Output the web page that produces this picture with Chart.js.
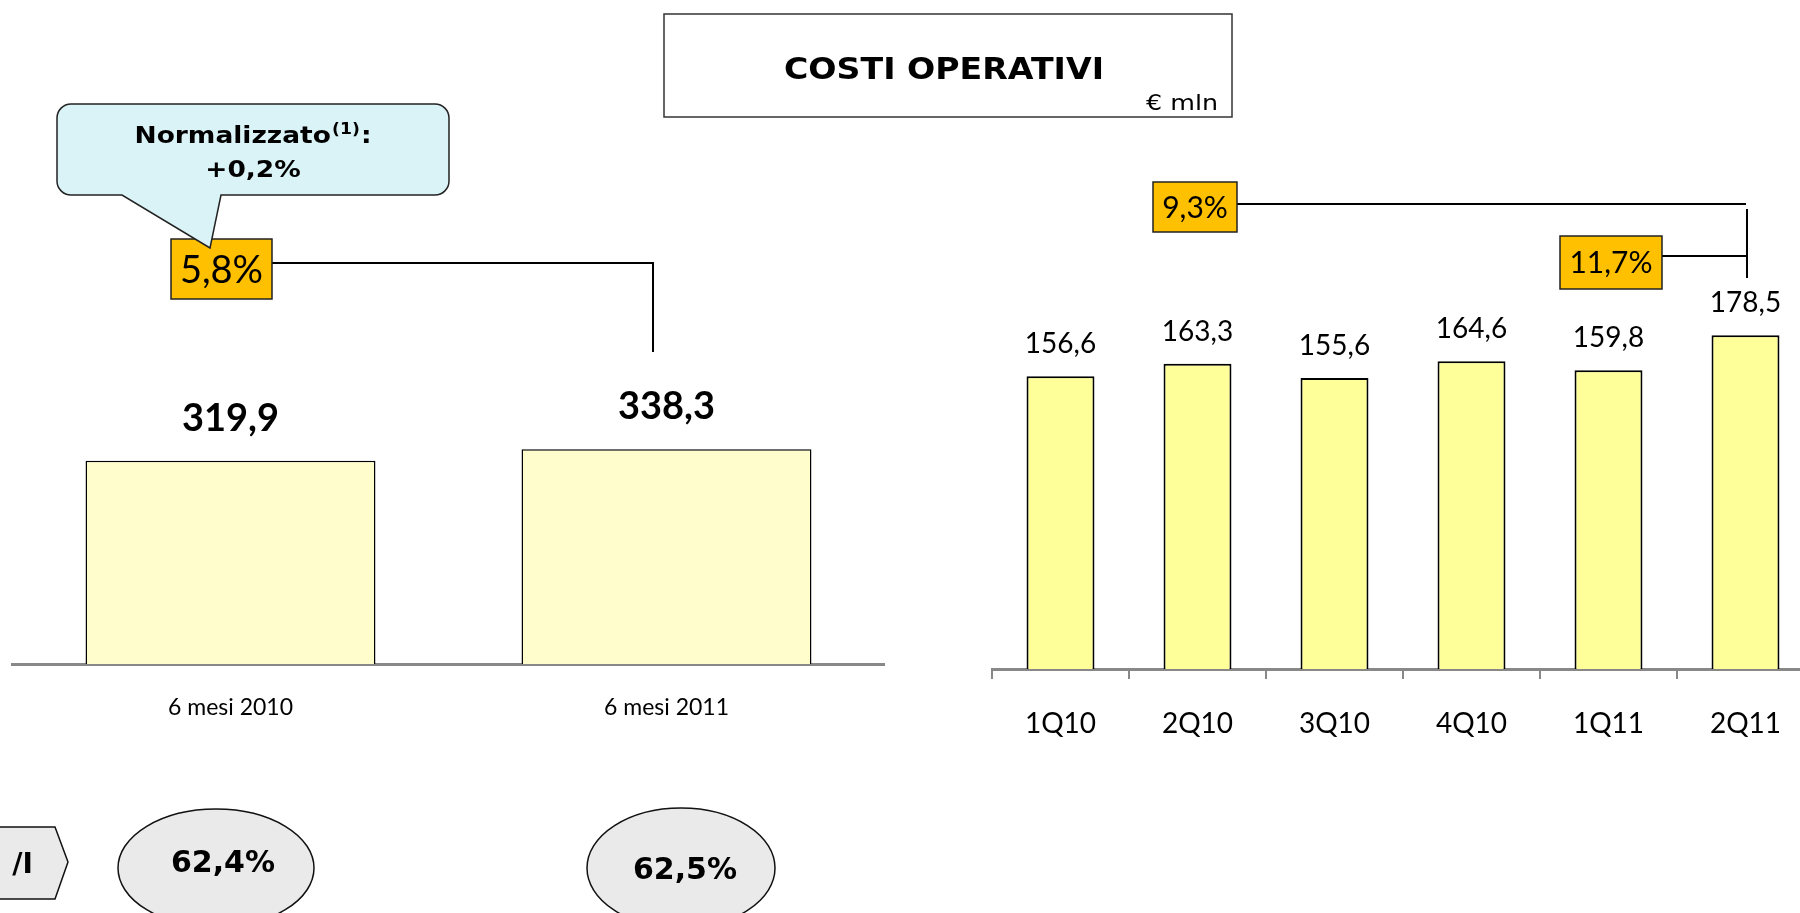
<!DOCTYPE html>
<html>
<head>
<meta charset="utf-8">
<title>Costi operativi</title>
<script src="https://cdn.jsdelivr.net/npm/chart.js"></script>
<style>
  html, body { margin: 0; padding: 0; background: #fff; overflow: hidden; }
  #page { position: relative; width: 1800px; height: 913px; overflow: hidden; }
  canvas { position: absolute; top: 0; }
  #half-chart { left: 0; }
  #quarter-chart { left: 900px; }
</style>
</head>
<body>
<div id="page">
  <canvas id="half-chart" width="1800" height="913"></canvas>
  <canvas id="quarter-chart" width="920" height="913"></canvas>
</div>
<script>
// Data
const halfLabels = ["6 mesi 2010", "6 mesi 2011"];
const halfValues = [319.9, 338.3];
const quarterLabels = ["1Q10", "2Q10", "3Q10", "4Q10", "1Q11", "2Q11"];
const quarterValues = [156.6, 163.3, 155.6, 164.6, 159.8, 178.5];
const halfGrowth = "5,8%";
const normalizedGrowth = "+0,2%";
const yearGrowth = "9,3%";
const quarterGrowth = "11,7%";
const costIncome = ["62,4%", "62,5%"];

const CAL = "Lato, 'Open Sans', sans-serif";
const TAH = "'DejaVu Sans', Verdana, sans-serif";

const fmt = v => v.toFixed(1).replace(".", ",");

//Values above the bars
function valueLabels(font, offset) {
  return {
    id: "valueLabels",
    afterDatasetsDraw(chart) {
      const ctx = chart.ctx;
      const meta = chart.getDatasetMeta(0);
      ctx.save();
      ctx.font = font;
      ctx.fillStyle = "#000";
      ctx.textAlign = "center";
      ctx.textBaseline = "alphabetic";
      meta.data.forEach((bar, i) => {
        ctx.fillText(fmt(chart.data.datasets[0].data[i]), bar.x, bar.y - offset);
      });
      ctx.restore();
    }
  };
}

// the slide text is a bit wider than the font, so stretch it
function wideText(ctx, text, x, y, font, width, align) {
  ctx.save();
  ctx.font = font;
  const k = width / ctx.measureText(text).width;
  ctx.translate(x, y);
  ctx.scale(k, 1);
  ctx.textAlign = align;
  ctx.fillText(text, 0, 0);
  ctx.restore();
}

function tagBox(ctx, x, y, w, h, text, size) {
  ctx.fillStyle = "#FFC000";
  ctx.fillRect(x, y, w, h);
  ctx.strokeStyle = "#222";
  ctx.lineWidth = 1.5;
  ctx.strokeRect(x, y, w, h);
  ctx.fillStyle = "#000";
  ctx.font = size + "px " + CAL;
  ctx.textAlign = "center";
  ctx.textBaseline = "alphabetic";
  ctx.fillText(text, x + w / 2, y + h / 2 + size * 0.36);
}

function polyline(ctx, pts) {
  ctx.beginPath();
  ctx.moveTo(pts[0][0], pts[0][1]);
  for (let i = 1; i < pts.length; i++) ctx.lineTo(pts[i][0], pts[i][1]);
  ctx.stroke();
}

function ellipse(ctx, cx, cy, rx, ry, text, tx, ty) {
  ctx.beginPath();
  ctx.ellipse(cx, cy, rx, ry, 0, 0, Math.PI * 2);
  ctx.fillStyle = "#EAEAEA";
  ctx.fill();
  ctx.strokeStyle = "#111";
  ctx.lineWidth = 1.5;
  ctx.stroke();
  ctx.fillStyle = "#000";
  ctx.font = "bold 30px " + TAH;
  ctx.textAlign = "center";
  ctx.fillText(text, tx, ty);
}

//Slide decorations: title, callout, growth tags, ratios
const decor = {
  id: "decor",
  afterDraw(chart) {
    const ctx = chart.ctx;
    ctx.save();

    // title box
    ctx.strokeStyle = "#333";
    ctx.lineWidth = 1.5;
    ctx.strokeRect(664, 14, 568, 103);
    ctx.fillStyle = "#000";
    ctx.textBaseline = "alphabetic";
    wideText(ctx, "COSTI OPERATIVI", 944, 79, "bold 30px " + TAH, 320, "center");
    wideText(ctx, "€ mln", 1218, 110, "22px " + TAH, 72, "right");

    // connector lines
    ctx.strokeStyle = "#000";
    ctx.lineWidth = 2;
    polyline(ctx, [[272, 263], [653, 263], [653, 352]]);
    polyline(ctx, [[1237, 204], [1746, 204]]);
    polyline(ctx, [[1747, 209], [1747, 278]]);
    polyline(ctx, [[1662, 256], [1747, 256]]);

    tagBox(ctx, 171, 239, 101, 60, halfGrowth, 38);
    tagBox(ctx, 1153, 182, 84, 50, yearGrowth, 30);
    tagBox(ctx, 1560, 236, 102, 53, quarterGrowth, 30);

    // callout
    const x0 = 57, y0 = 104, x1 = 449, y1 = 195, r = 14;
    ctx.beginPath();
    ctx.moveTo(x0 + r, y0);
    ctx.lineTo(x1 - r, y0);
    ctx.arcTo(x1, y0, x1, y0 + r, r);
    ctx.lineTo(x1, y1 - r);
    ctx.arcTo(x1, y1, x1 - r, y1, r);
    ctx.lineTo(221, y1);
    ctx.lineTo(210, 248);
    ctx.lineTo(122, y1);
    ctx.lineTo(x0 + r, y1);
    ctx.arcTo(x0, y1, x0, y1 - r, r);
    ctx.lineTo(x0, y0 + r);
    ctx.arcTo(x0, y0, x0 + r, y0, r);
    ctx.closePath();
    ctx.fillStyle = "#DAF3F7";
    ctx.fill();
    ctx.strokeStyle = "#222";
    ctx.lineWidth = 1.5;
    ctx.stroke();

    ctx.fillStyle = "#000";
    const big = "bold 23px " + TAH, small = "bold 15px " + TAH;
    ctx.font = big;
    const w1 = ctx.measureText("Normalizzato").width;
    const w3 = ctx.measureText(":").width;
    ctx.font = small;
    const w2 = ctx.measureText("(1)").width;
    const total = w1 + w2 + w3 + 2;
    const k = 237 / total;
    ctx.save();
    ctx.translate(253, 0);
    ctx.scale(k, 1);
    ctx.textAlign = "left";
    const sx = -total / 2;
    ctx.font = big;
    ctx.fillText("Normalizzato", sx, 143);
    ctx.font = small;
    ctx.fillText("(1)", sx + w1 + 1, 134);
    ctx.font = big;
    ctx.fillText(":", sx + w1 + w2 + 2, 143);
    ctx.textAlign = "center";
    ctx.fillText(normalizedGrowth, 0, 177);
    ctx.restore();

    // C/I tag and ratios
    ctx.beginPath();
    ctx.moveTo(-2, 827);
    ctx.lineTo(55, 827);
    ctx.lineTo(68, 862);
    ctx.lineTo(55, 899);
    ctx.lineTo(-2, 899);
    ctx.closePath();
    ctx.fillStyle = "#EAEAEA";
    ctx.fill();
    ctx.strokeStyle = "#111";
    ctx.lineWidth = 1.5;
    ctx.stroke();
    ctx.fillStyle = "#000";
    ctx.font = "bold 28px " + TAH;
    ctx.textAlign = "right";
    ctx.fillText("/I", 33, 873);

    ellipse(ctx, 216, 868, 98, 59, costIncome[0], 223, 872);
    ellipse(ctx, 681, 868, 94, 60, costIncome[1], 685, 879);

    ctx.restore();
  }
};

function build() {
  new Chart(document.getElementById("half-chart"), {
    type: "bar",
    data: {
      labels: halfLabels,
      datasets: [{
        data: halfValues,
        backgroundColor: "#FFFDCB",
        borderColor: "#000",
        borderWidth: 1.5,
        barPercentage: 0.665,
        categoryPercentage: 1
      }]
    },
    options: {
      responsive: false,
      animation: false,
      devicePixelRatio: 1,
      layout: { padding: { left: 12.5, right: 915.5, top: 283, bottom: 161.4 } },
      plugins: { legend: { display: false }, tooltip: { enabled: false } },
      scales: {
        x: {
          grid: { display: false, drawTicks: false },
          border: { color: "#888", width: 3 },
          ticks: { color: "#000", font: { family: CAL, size: 23 }, padding: 30 }
        },
        y: { display: false, min: 0, max: 600 }
      }
    },
    plugins: [decor, valueLabels("bold 38px " + CAL, 30)]
  });

  new Chart(document.getElementById("quarter-chart"), {
    type: "bar",
    data: {
      labels: quarterLabels,
      datasets: [{
        data: quarterValues,
        backgroundColor: "#FFFF99",
        borderColor: "#000",
        borderWidth: 2,
        barPercentage: 0.496,
        categoryPercentage: 1
      }]
    },
    options: {
      responsive: false,
      animation: false,
      devicePixelRatio: 1,
      layout: { padding: { left: 92, right: 6, top: 201.5, bottom: 144.4 } },
      plugins: { legend: { display: false }, tooltip: { enabled: false } },
      scales: {
        x: {
          grid: { drawOnChartArea: false, drawTicks: true, tickLength: 10, color: "#888", lineWidth: 2 },
          border: { color: "#888", width: 3 },
          ticks: { color: "#000", font: { family: CAL, size: 28 }, padding: 28 }
        },
        y: { display: false, min: 0, max: 250 }
      }
    },
    plugins: [valueLabels("28px " + CAL, 23)]
  });
}

Promise.all([
  document.fonts.load("23px Lato"),
  document.fonts.load("bold 38px Lato"),
  document.fonts.load("bold 30px 'DejaVu Sans'"),
  document.fonts.load("22px 'DejaVu Sans'")
]).then(build, build);
</script>
</body>
</html>
